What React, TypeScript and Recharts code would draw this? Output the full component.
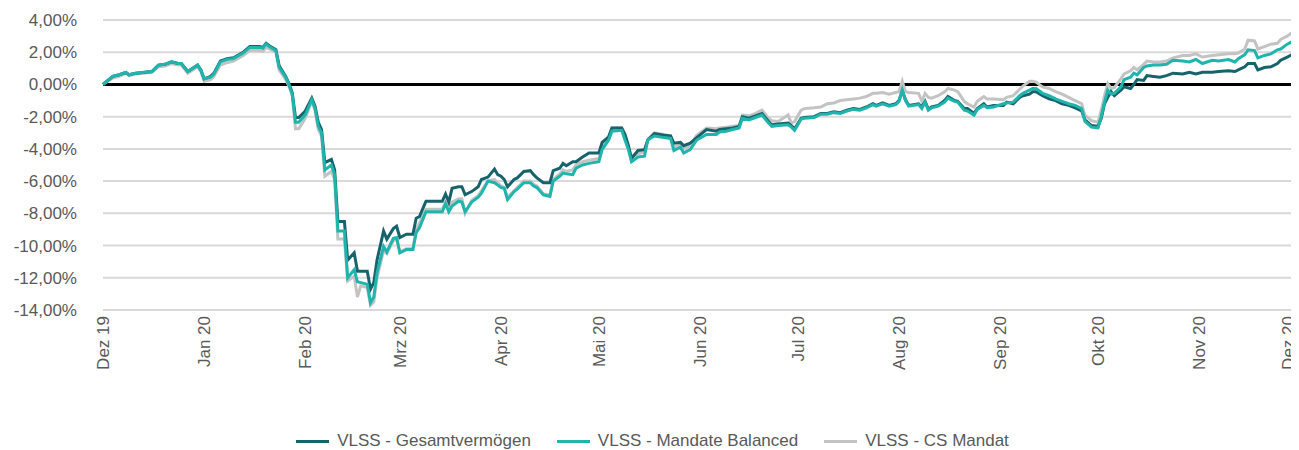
import { LineChart, Line, XAxis, YAxis, CartesianGrid, ReferenceLine, Legend } from "recharts";

// day offset from 1 Dec 2019
const days = [
  0, 3, 5, 7, 8, 10, 15, 17, 19, 21, 23, 24, 26, 29, 30, 31, 33, 34, 36, 38, 40, 43, 45, 48, 49, 50, 51, 53, 54, 56,
  57, 58, 59, 60, 62, 64, 65, 66, 67, 68, 70, 71, 72, 74, 75, 77, 78, 79, 81, 82, 83, 84, 86, 87, 89, 90, 91, 93, 95, 96,
  97, 99, 104, 105, 106, 107, 109, 110, 111, 113, 115, 116, 118, 120, 121, 122, 123, 124, 126, 127, 129, 131, 132, 133, 135, 137, 138, 140, 141, 142,
  144, 145, 147, 149, 152, 153, 155, 156, 159, 160, 161, 162, 164, 166, 167, 169, 172, 174, 175, 177, 178, 180, 182, 185, 188, 189, 191, 193, 195, 196,
  198, 200, 202, 204, 205, 207, 210, 211, 212, 214, 215, 218, 220, 222, 224, 226, 228, 230, 232, 234, 236, 237, 239, 241, 243, 244, 245, 246, 247, 250,
  251, 252, 253, 254, 256, 258, 259, 261, 262, 264, 265, 267, 268, 270, 271, 273, 276, 277, 279, 281, 282, 284, 285, 286, 288, 290, 292, 294, 296, 298,
  300, 301, 303, 305, 306, 307, 308, 309, 310, 312, 313, 315, 316, 317, 319, 320, 322, 324, 326, 328, 331, 333, 335, 337, 340, 342, 345, 347, 348, 350,
  351, 353, 354, 356, 358, 360, 361, 363, 365, 366,
];

const gesamt = [
  0.0, 0.5, 0.6, 0.75, 0.6, 0.7, 0.8, 1.2, 1.25, 1.4, 1.3, 1.3, 0.8, 1.2, 0.9, 0.35, 0.5, 0.7, 1.45, 1.6, 1.65, 2.0, 2.35, 2.35, 2.3, 2.55, 2.4, 2.15, 1.15, 0.5,
  0.05, -0.5, -2.05, -2.05, -1.65, -0.85, -1.35, -2.35, -2.8, -4.85, -4.65, -5.3, -8.5, -8.5, -10.9, -10.45, -11.6, -11.6, -11.6, -12.7, -12.3, -10.9, -9.1, -9.6, -8.95, -8.8, -9.5, -9.3, -9.3, -8.3,
  -8.2, -7.25, -7.25, -6.8, -7.3, -6.45, -6.35, -6.35, -6.85, -6.65, -6.35, -5.9, -5.75, -5.25, -5.6, -5.7, -5.9, -6.35, -5.9, -5.8, -5.4, -5.35, -5.6, -5.8, -6.1, -6.1, -5.35, -5.2, -4.9, -5.05,
  -4.8, -4.8, -4.5, -4.25, -4.25, -3.6, -3.25, -2.7, -2.7, -3.1, -3.75, -4.6, -4.1, -4.05, -3.45, -3.05, -3.15, -3.2, -3.65, -3.6, -3.8, -3.65, -3.3, -2.8, -2.9, -2.8, -2.75, -2.7, -2.6, -2.0,
  -2.1, -1.95, -1.8, -2.3, -2.5, -2.45, -2.4, -2.55, -2.75, -2.1, -2.05, -2.0, -1.8, -1.8, -1.7, -1.75, -1.6, -1.5, -1.55, -1.4, -1.2, -1.3, -1.15, -1.3, -1.2, -1.0, -0.4, -0.95, -1.3, -1.2,
  -1.4, -1.05, -1.55, -1.4, -1.3, -1.0, -0.75, -1.0, -1.05, -1.5, -1.5, -1.8, -1.5, -1.2, -1.4, -1.3, -1.3, -1.1, -1.2, -0.8, -0.7, -0.6, -0.45, -0.45, -0.7, -0.9, -1.0, -1.2, -1.3, -1.45,
  -1.65, -2.2, -2.55, -2.6, -2.1, -1.2, -0.8, -0.45, -0.7, -0.35, -0.15, -0.25, 0.0, 0.3, 0.25, 0.55, 0.5, 0.45, 0.55, 0.7, 0.65, 0.75, 0.65, 0.75, 0.75, 0.8, 0.85, 0.8, 0.9, 1.1,
  1.3, 1.3, 0.9, 1.05, 1.1, 1.3, 1.5, 1.7, 1.9, 1.95,
];

const balanced = [
  0.0, 0.5, 0.6, 0.75, 0.6, 0.7, 0.8, 1.2, 1.25, 1.4, 1.3, 1.3, 0.8, 1.2, 0.9, 0.35, 0.45, 0.65, 1.4, 1.55, 1.6, 1.95, 2.3, 2.3, 2.25, 2.5, 2.35, 2.1, 1.05, 0.45,
  0.0, -0.6, -2.35, -2.35, -1.9, -0.95, -1.5, -2.6, -3.0, -5.3, -5.0, -5.6, -9.1, -9.1, -12.0, -11.5, -12.25, -12.3, -12.4, -13.55, -13.2, -11.7, -10.05, -10.4, -9.55, -9.5, -10.45, -10.25, -10.25, -9.2,
  -8.9, -7.9, -7.9, -7.4, -7.9, -7.55, -7.25, -7.3, -7.9, -7.3, -7.0, -6.75, -6.0, -6.1, -6.25, -6.4, -6.45, -7.15, -6.65, -6.5, -6.1, -6.1, -6.3, -6.4, -6.85, -6.95, -6.0, -5.7, -5.5, -5.55,
  -5.6, -5.2, -5.0, -4.9, -4.8, -4.05, -3.45, -2.9, -2.85, -3.45, -4.0, -4.8, -4.5, -4.45, -3.45, -3.2, -3.3, -3.35, -4.1, -3.9, -4.25, -4.05, -3.45, -3.1, -3.1, -2.95, -2.9, -2.8, -2.7, -2.1,
  -2.2, -2.05, -1.9, -2.4, -2.6, -2.55, -2.5, -2.65, -2.85, -2.15, -2.1, -2.05, -1.85, -1.85, -1.75, -1.8, -1.65, -1.55, -1.6, -1.45, -1.25, -1.35, -1.2, -1.35, -1.25, -1.05, -0.35, -1.0, -1.35, -1.25,
  -1.5, -1.1, -1.6, -1.45, -1.35, -1.1, -0.85, -1.05, -1.1, -1.6, -1.65, -1.9, -1.55, -1.3, -1.45, -1.4, -1.2, -1.15, -1.1, -0.7, -0.55, -0.35, -0.25, -0.25, -0.55, -0.7, -0.9, -1.05, -1.2, -1.3,
  -1.5, -2.3, -2.65, -2.7, -2.0, -1.1, -0.35, -0.6, -0.55, -0.15, 0.3, 0.45, 0.7, 0.6, 1.05, 1.15, 1.2, 1.2, 1.25, 1.5, 1.45, 1.4, 1.55, 1.3, 1.5, 1.45, 1.55, 1.4, 1.6, 1.85,
  2.15, 2.1, 1.65, 1.8, 1.9, 2.15, 2.2, 2.5, 2.7, 2.8,
];

const csMandat = [
  0.0, 0.4, 0.5, 0.7, 0.55, 0.65, 0.75, 1.1, 1.15, 1.3, 1.2, 1.2, 0.7, 1.1, 0.8, 0.2, 0.3, 0.5, 1.2, 1.35, 1.45, 1.8, 2.1, 2.1, 2.05, 2.3, 2.2, 2.0, 0.9, 0.3,
  -0.1, -0.7, -2.75, -2.75, -2.1, -1.0, -1.6, -2.8, -3.2, -5.7, -5.4, -5.9, -9.6, -9.6, -12.2, -11.9, -13.2, -12.5, -12.6, -13.7, -13.5, -12.0, -10.3, -10.5, -9.7, -9.6, -10.4, -10.2, -10.2, -9.0,
  -8.6, -7.75, -7.75, -7.3, -7.7, -7.3, -7.1, -7.1, -8.0, -7.2, -6.9, -6.6, -6.0, -5.9, -6.1, -6.3, -6.4, -7.0, -6.6, -6.4, -6.0, -6.0, -6.2, -6.3, -6.8, -6.85, -5.9, -5.55, -5.3, -5.4,
  -5.3, -5.0, -4.8, -4.7, -4.6, -3.9, -3.3, -2.7, -2.7, -3.2, -3.9, -4.5, -4.3, -4.2, -3.4, -3.0, -3.1, -3.2, -3.9, -3.75, -4.0, -3.8, -3.15, -2.7, -2.75, -2.7, -2.65, -2.6, -2.55, -1.9,
  -1.95, -1.8, -1.6, -2.1, -2.25, -2.3, -1.9, -2.4, -2.3, -1.6, -1.5, -1.45, -1.4, -1.2, -1.15, -1.0, -0.95, -0.9, -0.85, -0.75, -0.55, -0.55, -0.5, -0.6, -0.5, -0.45, 0.2, -0.45, -0.5, -0.55,
  -1.05, -0.55, -0.8, -0.85, -0.7, -0.45, -0.25, -0.35, -0.45, -1.05, -1.2, -1.4, -1.05, -0.75, -0.9, -0.9, -0.95, -0.8, -0.7, -0.3, -0.1, 0.2, 0.2, 0.15, -0.15, -0.25, -0.45, -0.6, -0.8, -1.0,
  -1.2, -1.9, -2.25, -2.35, -1.6, -0.7, 0.05, -0.25, -0.2, 0.35, 0.65, 0.85, 1.05, 0.9, 1.25, 1.45, 1.4, 1.4, 1.45, 1.65, 1.8, 1.8, 1.9, 1.7, 1.8, 1.85, 1.9, 1.9, 1.95, 2.2,
  2.75, 2.7, 2.2, 2.35, 2.5, 2.55, 2.8, 3.0, 3.3, 3.4,
];

const monthTicks = [0, 31, 62, 91, 122, 152, 183, 213, 244, 275, 305, 336, 366];
const monthLabels = ["Dez 19", "Jan 20", "Feb 20", "Mrz 20", "Apr 20", "Mai 20", "Jun 20", "Jul 20", "Aug 20", "Sep 20", "Okt 20", "Nov 20", "Dez 20"];
const yTicks = [-14, -12, -10, -8, -6, -4, -2, 0, 2, 4];

const seriesInfo = [
  { key: "gesamt", name: "VLSS - Gesamtvermögen", color: "#17636b" },
  { key: "balanced", name: "VLSS - Mandate Balanced", color: "#1fb5ad" },
  { key: "cs", name: "VLSS - CS Mandat", color: "#c3c3c3" },
];

const chartData = days.map((d, i) => ({
  day: d,
  gesamt: gesamt[i],
  balanced: balanced[i],
  cs: csMandat[i],
}));

const tickFont = "'Liberation Sans', Arial, sans-serif";

const fmtPct = (v: number) => `${v.toFixed(2).replace(".", ",")}%`;

const MonthTick = ({ x, y, payload }: any) => {
  const idx = monthTicks.indexOf(payload.value);
  // keep the last label inside the picture
  const lx = idx === monthTicks.length - 1 ? x - 9 : x;
  return (
    <text
      x={lx}
      y={y}
      transform={`rotate(-90, ${lx}, ${y})`}
      textAnchor="end"
      dy="0.36em"
      fill="#595959"
      fontSize={17}
      fontFamily={tickFont}
    >
      {monthLabels[idx]}
    </text>
  );
};

const LegendContent = () => (
  <div
    style={{
      display: "flex",
      justifyContent: "center",
      alignItems: "center",
      height: 40,
      paddingTop: 22,
      boxSizing: "border-box",
      fontFamily: tickFont,
      fontSize: 17,
      color: "#595959",
    }}
  >
    {seriesInfo.map((s, i) => (
      <div key={s.key} style={{ display: "flex", alignItems: "center", marginLeft: i === 0 ? 0 : 26 }}>
        <div style={{ width: 33, height: 3, background: s.color, marginRight: 8 }} />
        <span>{s.name}</span>
      </div>
    ))}
  </div>
);

export default function App() {
  return (
    <div style={{ margin: "-8px 0 0 -8px", width: 1299, height: 450, background: "#fff" }}>
      <LineChart width={1299} height={450} data={chartData} margin={{ top: 20, right: 2, bottom: 0, left: 8 }}>
        <CartesianGrid vertical={false} stroke="#d9d9d9" strokeWidth={2} />
        <XAxis
          dataKey="day"
          type="number"
          domain={[0, 366]}
          ticks={monthTicks}
          interval={0}
          axisLine={false}
          tickLine={false}
          tickSize={0}
          tickMargin={6}
          height={100}
          tick={<MonthTick />}
        />
        <YAxis
          type="number"
          domain={[-14, 4]}
          ticks={yTicks}
          interval={0}
          axisLine={false}
          tickLine={false}
          tickSize={0}
          tickMargin={26}
          width={95}
          tickFormatter={fmtPct}
          tick={{ fill: "#595959", fontSize: 17, fontFamily: tickFont }}
        />
        <ReferenceLine y={0} stroke="#000" strokeWidth={3} />
        <Line type="linear" dataKey="cs" stroke="#c3c3c3" strokeWidth={3} dot={false} isAnimationActive={false} />
        <Line type="linear" dataKey="gesamt" stroke="#17636b" strokeWidth={3} dot={false} isAnimationActive={false} />
        <Line type="linear" dataKey="balanced" stroke="#1fb5ad" strokeWidth={3} dot={false} isAnimationActive={false} />
        <Legend verticalAlign="bottom" height={40} content={<LegendContent />} />
      </LineChart>
    </div>
  );
}
